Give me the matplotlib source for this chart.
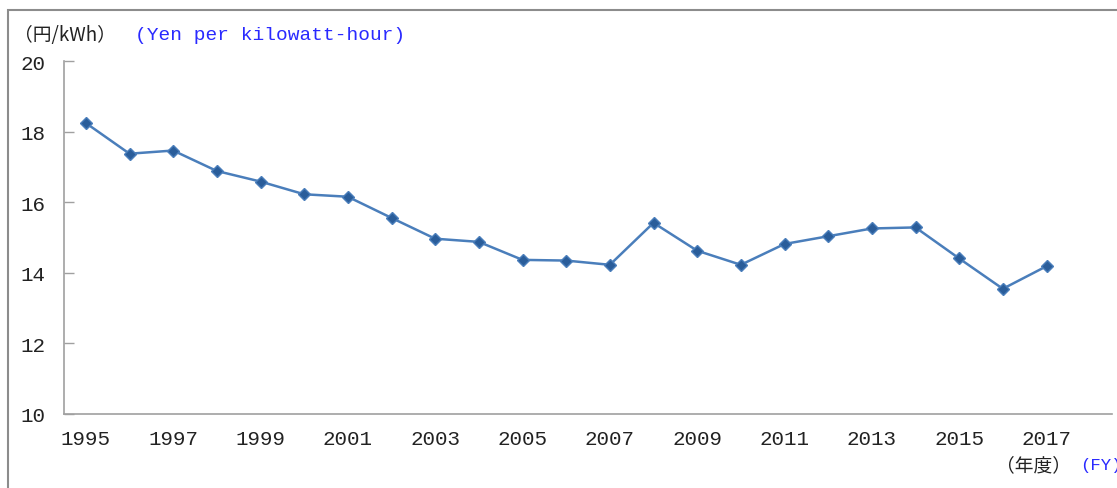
import matplotlib
matplotlib.use("Agg")
from matplotlib import pyplot as plt
from matplotlib.patches import Rectangle

# fiscal years and unit price (yen per kWh)
years = list(range(1995, 2018))
price = [18.25, 17.38, 17.47, 16.89, 16.59, 16.23, 16.16, 15.56, 14.97, 14.88,
         14.37, 14.35, 14.23, 15.42, 14.63, 14.23, 14.82, 15.04, 15.26, 15.29,
         14.41, 13.55, 14.19]
tick_years = list(range(1995, 2018, 2))
y_ticks = [10, 12, 14, 16, 18, 20]

W, H = 1117, 489
fig = plt.figure(figsize=(W / 100, H / 100), dpi=100)

# outer frame of the original chart area
fig.patches.append(Rectangle((8 / W, -0.1), 1.2, 1.1 - 11 / H, transform=fig.transFigure,
                             fill=False, edgecolor="#8c8c8c", linewidth=1.5))

ax = fig.add_axes([64 / W, 1 - 415 / H, (1112 - 64) / W, (415 - 62.3) / H])

ax.plot(years, price, color="#4a7ebb", linewidth=1.8, marker="D", markersize=6.5,
        markerfacecolor="#2a5d9a", markeredgecolor="#4a7ebb", markeredgewidth=1)

ax.set_xlim(1994.5, 2018.5)
ax.set_ylim(10, 20)
ax.set_xticks(tick_years)
ax.set_xticklabels([str(y) for y in tick_years])
ax.set_yticks(y_ticks)

mono = ["Liberation Mono", "DejaVu Sans Mono"]
for lbl in ax.get_xticklabels() + ax.get_yticklabels():
    lbl.set_family(mono)
    lbl.set_fontsize(15)
    lbl.set_color("#222222")

ax.tick_params(axis="x", length=0, pad=11)
ax.tick_params(axis="y", direction="in", length=7, width=1, color="#a0a0a0", pad=13)

for s in ["top", "right"]:
    ax.spines[s].set_visible(False)
for s in ["left", "bottom"]:
    ax.spines[s].set_color("#a0a0a0")
    ax.spines[s].set_linewidth(1.2)

jp = ["Noto Sans CJK JP", "DejaVu Sans"]
fig.text(14 / W, 1 - 35 / H, "（円/kWh）", family=jp, fontsize=13.5, va="center", ha="left",
         color="#222222")
fig.text(135 / W, 1 - 35 / H, "(Yen per kilowatt-hour)", family=mono, fontsize=14,
         va="center", ha="left", color="#2a2aff")
fig.text(996 / W, 1 - 466 / H, "（年度）", family=jp, fontsize=13.5, va="center", ha="left",
         color="#222222")
fig.text(1080 / W, 1 - 466 / H, "(FY)", family=mono, fontsize=12.5, va="center",
         ha="left", color="#2a2aff")

fig.savefig("out.png", dpi=100)
